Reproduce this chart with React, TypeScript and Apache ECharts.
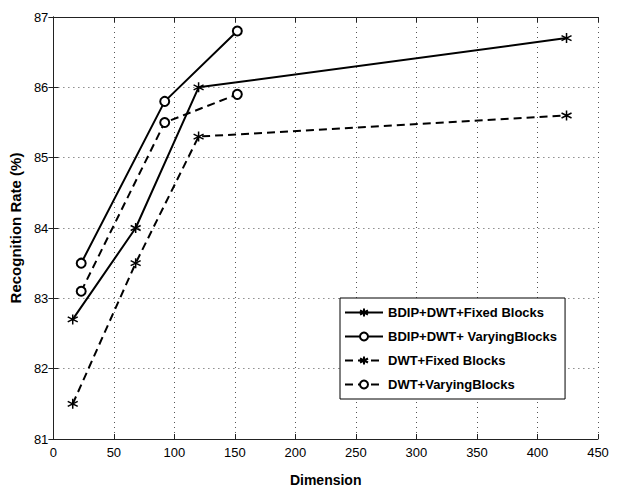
import React, { useEffect, useRef } from "react";
import * as echarts from "echarts";

const seriesNames = [
  "BDIP+DWT+Fixed Blocks",
  "BDIP+DWT+ VaryingBlocks",
  "DWT+Fixed Blocks",
  "DWT+VaryingBlocks",
];
const fixedDims = [16, 68, 120, 424];
const varyingDims = [23, 92, 152];
const bdipFixed = [82.7, 84.0, 86.0, 86.7];
const bdipVarying = [83.5, 85.8, 86.8];
const dwtFixed = [81.5, 83.5, 85.3, 85.6];
const dwtVarying = [83.1, 85.5, 85.9];
const xTicks = { min: 0, max: 450, interval: 50 };
const yTicks = { min: 81, max: 87, interval: 1 };

const zip = (xs: number[], ys: number[]) => xs.map((x, i) => [x, ys[i]]);

const STAR = "path://M0,-6L0,6M-5.2,-3L5.2,3M-5.2,3L5.2,-3";
const FONT = "'Liberation Sans', Arial, sans-serif";

export default function App() {
  const ref = useRef<HTMLDivElement>(null);
  useEffect(() => {
    if (!ref.current) return;
    const chart = echarts.init(ref.current, null, { renderer: "svg" });
    const axisCommon = {
      axisLine: { show: true, lineStyle: { color: "#222", width: 1 } },
      axisTick: { show: true, inside: true, length: 5, lineStyle: { color: "#222" } },
    };
    const mk = (name: string, data: number[][], star: boolean, dashed: boolean) => ({
      name,
      type: "line",
      data,
      symbol: star ? STAR : "emptyCircle",
      symbolSize: star ? 10 : 9,
      showSymbol: true,
      lineStyle: { color: "#000", width: 2, type: dashed ? [8, 5] : "solid" },
      itemStyle: { color: "#000", borderColor: "#000", borderWidth: 1.5 },
      emphasis: { disabled: true },
      z: 3,
    });
    chart.setOption({
      animation: false,
      backgroundColor: "#fff",
      textStyle: { fontFamily: FONT },
      grid: { left: 51, right: 22, top: 17, bottom: 57, containLabel: false },
      legend: {
        orient: "vertical",
        left: 340,
        top: 298,
        backgroundColor: "#fff",
        borderColor: "#000",
        borderWidth: 1,
        borderRadius: 0,
        padding: [8, 8, 8, 4],
        itemWidth: 38,
        itemHeight: 10,
        itemGap: 11,
        textStyle: { fontFamily: FONT, fontSize: 13, fontWeight: "bold", color: "#000" },
        data: seriesNames,
      },
      xAxis: [
        {
          type: "value",
          ...xTicks,
          name: "Dimension",
          nameLocation: "middle",
          nameGap: 34,
          nameTextStyle: { fontFamily: FONT, fontSize: 14, fontWeight: "bold", color: "#000" },
          ...axisCommon,
          axisLabel: { fontFamily: FONT, fontSize: 13, color: "#000", margin: 7 },
          splitLine: { show: true, lineStyle: { color: "#555", type: [1, 4], width: 1 } },
        },
        {
          type: "value",
          ...xTicks,
          position: "top",
          ...axisCommon,
          axisLabel: { show: false },
          splitLine: { show: false },
        },
      ],
      yAxis: [
        {
          type: "value",
          ...yTicks,
          name: "Recognition Rate (%)",
          nameLocation: "middle",
          nameGap: 24,
          nameTextStyle: { fontFamily: FONT, fontSize: 15, fontWeight: "bold", color: "#000" },
          ...axisCommon,
          axisLabel: { fontFamily: FONT, fontSize: 13, color: "#000", margin: 5 },
          splitLine: { show: true, lineStyle: { color: "#555", type: [1, 4], width: 1 } },
        },
        {
          type: "value",
          ...yTicks,
          position: "right",
          ...axisCommon,
          axisLabel: { show: false },
          splitLine: { show: false },
        },
      ],
      series: [
        mk(seriesNames[0], zip(fixedDims, bdipFixed), true, false),
        mk(seriesNames[1], zip(varyingDims, bdipVarying), false, false),
        mk(seriesNames[2], zip(fixedDims, dwtFixed), true, true),
        mk(seriesNames[3], zip(varyingDims, dwtVarying), false, true),
      ],
    });
    return () => chart.dispose();
  }, []);
  return <div ref={ref} style={{ width: 620, height: 496, margin: -8 }} />;
}
